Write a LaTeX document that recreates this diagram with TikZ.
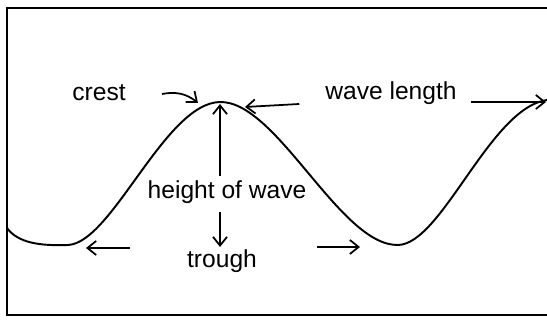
\documentclass[tikz,border=0pt]{standalone}
\usepackage{fontspec}
\setmainfont{Liberation Sans}
\usetikzlibrary{arrows.meta, positioning}

\begin{document}
\begin{tikzpicture}[
    x=0.02cm, y=-0.02cm,
    wave/.style={line width=1.1pt, line join=round},
    label/.style={font=\fontsize{14}{16}\selectfont, inner sep=1pt},
    pointer/.style={-{Straight Barb[length=5pt, width=8pt]}, line width=1pt}
]
\useasboundingbox (0,0) rectangle (547,320);

% Frame
\draw[line width=1pt] (547,8) -- (7,8) -- (7,315) -- (547,315);

% Wave
\draw[wave] (7,228) .. controls (18,243) and (40,246) .. (68,245)
    .. controls (112,243) and (165,103) .. (220,102)
    .. controls (277,101) and (340,246) .. (398,245)
    .. controls (442,244) and (490,108) .. (547,100);

% Labels
\node[label] (crest) at (99,93) {crest};
\node[label] (wavelength) at (391,93) {wave length};
\node[label] (height) at (227,192) {height of wave};
\node[label] (trough) at (222,261) {trough};

% Points on the wave
\coordinate (top) at (220,104);
\coordinate (crestend) at (198,103);
\coordinate (wlleft) at (245,107);
\coordinate (wlright) at (546,102);
\coordinate (tleft) at (86,248);
\coordinate (tright) at (360,247);
\coordinate (hlow) at (220,247);

% Arrows
\draw[pointer] (162,94) to[bend left=25] (crestend);
\draw[pointer] (wavelength.west) ++(-24,11) -- (wlleft);
\draw[pointer] (wavelength.east) ++(12,9) -- (wlright);
\draw[pointer] (220,176) -- (top);
\draw[pointer] (220,212) -- (hlow);
\draw[pointer] (130,248) -- (tleft);
\draw[pointer] (317,247) -- (tright);

\end{tikzpicture}
\end{document}
